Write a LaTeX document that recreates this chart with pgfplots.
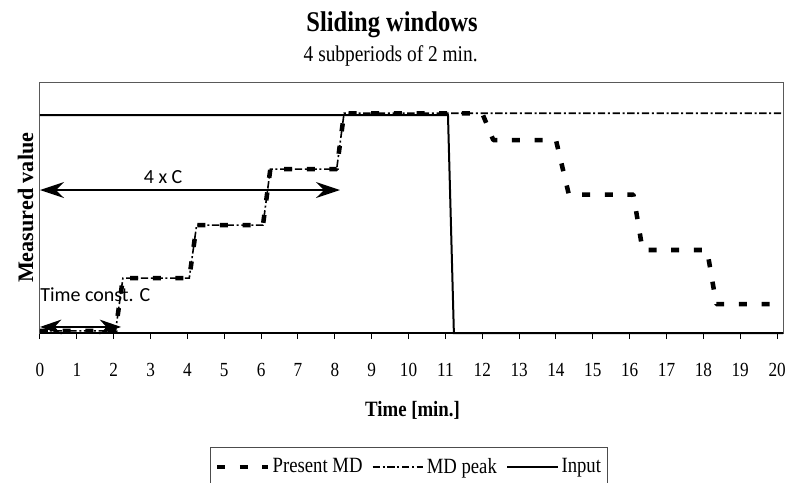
\documentclass[border=0pt]{standalone}
\usepackage{fontspec}
\setmainfont{Liberation Serif}[FakeStretch=0.86]
\newfontfamily\ylabfont{Liberation Serif}
\newfontfamily\annotfont{Carlito}
\usepackage{pgfplots}
\pgfplotsset{compat=1.18}
\usetikzlibrary{arrows.meta}

\begin{document}
\begin{tikzpicture}
\useasboundingbox (-30pt,-111.75pt) rectangle (565.5pt,249.8pt);
\begin{axis}[
  at={(0pt,0pt)}, anchor=south west,
  scale only axis, width=557.25pt, height=187.9pt,
  xmin=0, xmax=20.16, ymin=0, ymax=1.149,
  xtick={0,1,...,20}, ytick=\empty,
  xtick align=outside, xtick pos=left,
  major tick length=4.5pt,
  tick style={black, line width=0.75pt},
  axis line style={draw=black!65, line width=0.75pt},
  xticklabel style={font=\fontsize{15pt}{18pt}\selectfont, anchor=base, yshift=-28pt},
  /pgf/number format/assume math mode=true,
  clip=false,
  legend columns=3,
  legend style={at={(0.497,-0.455)}, anchor=north, draw=black!70, line width=0.75pt,
    font=\fontsize{16.3pt}{19pt}\selectfont, inner xsep=3pt, inner ysep=6pt,
    /tikz/every even column/.append style={column sep=5pt}},
  legend image code/.code={\draw[#1] (0pt,0pt) -- (38pt,0pt);},
]
\addplot[black, line width=3.4pt, line join=bevel, dash pattern=on 6pt off 11pt] coordinates {
 (0,0.01) (2.05,0.01) (2.25,0.252) (4.05,0.252) (4.25,0.495) (6.05,0.495) (6.25,0.752) (8.05,0.752)
 (8.25,1.008) (12.0,1.008) (12.3,0.885) (14.0,0.885) (14.35,0.635) (16.1,0.635) (16.35,0.381)
 (18.1,0.381) (18.35,0.133) (19.8,0.133)};
\addlegendentry{Present MD}
\addplot[black, line width=1.2pt, dash pattern=on 5.5pt off 2pt on 1.5pt off 2pt] coordinates {
 (0,0.01) (2.05,0.01) (2.25,0.252) (4.05,0.252) (4.25,0.495) (6.05,0.495) (6.25,0.752) (8.05,0.752)
 (8.25,1.008) (20.16,1.008)};
\addlegendentry{MD peak}
\addplot[black, line width=1.5pt] coordinates {(0,1) (11.07,1) (11.23,0) (20.16,0)};
\addlegendentry{Input}
\draw[black, line width=1.5pt] (rel axis cs:0,0) -- (rel axis cs:1,0);
\draw[black, line width=1.1pt, {Stealth[length=18pt,width=12pt,inset=6pt]}-{Stealth[length=18pt,width=12pt,inset=6pt]}]
  (axis cs:0,0.656) -- (axis cs:8.14,0.656);
\draw[black, line width=1.1pt, {Stealth[length=16pt,width=11pt,inset=5pt]}-{Stealth[length=16pt,width=11pt,inset=5pt]}]
  (axis cs:0,0.028) -- (axis cs:2.2,0.028);
\node[font=\annotfont\fontsize{15pt}{18pt}\selectfont] at (axis cs:3.34,0.716) {4 x C};
\node[anchor=west, inner sep=0pt, font=\annotfont\fontsize{15pt}{18pt}\selectfont] at (axis cs:0,0.174) {Time const. C};
\end{axis}
\node[anchor=base, font=\bfseries\fontsize{21.4pt}{25pt}\selectfont] at (264pt,225.8pt) {Sliding windows};
\node[anchor=base, font=\fontsize{16.9pt}{20pt}\selectfont] at (263pt,203.3pt) {4 subperiods of 2 min.};
\node[anchor=base, font=\bfseries\fontsize{16.4pt}{20pt}\selectfont] at (279.4pt,-62.6pt) {Time [min.]};
\node[anchor=base, rotate=90, font=\ylabfont\bfseries\fontsize{16.6pt}{20pt}\selectfont] at (-5.25pt,93.95pt) {Measured value};
\end{tikzpicture}
\end{document}
